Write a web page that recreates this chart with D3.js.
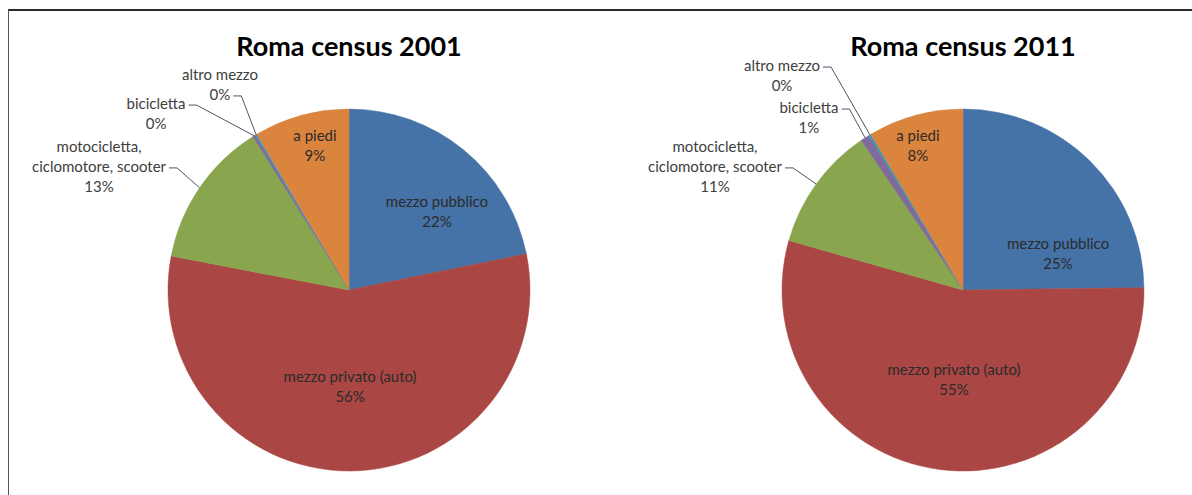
<!DOCTYPE html>
<html><head><meta charset="utf-8">
<script src="https://cdn.jsdelivr.net/npm/d3@7"></script>
<style>
html,body{margin:0;padding:0;background:#fff;}
svg{display:block;}
text{font-family:Lato,"Open Sans",sans-serif;}
</style></head><body>
<svg id="chart" width="1192" height="495"></svg>
<script>
// ---- data ----
const categories = ["mezzo pubblico","mezzo privato (auto)","motocicletta, ciclomotore, scooter","bicicletta","altro mezzo","a piedi"];
const categoryLines = [["mezzo pubblico"],["mezzo privato (auto)"],["motocicletta,","ciclomotore, scooter"],["bicicletta"],["altro mezzo"],["a piedi"]];
const titles = ["Roma census 2001","Roma census 2011"];
const values2001 = [21.8,56.2,13.1,0.25,0.15,8.5];
const values2011 = [24.8,54.6,11.1,0.8,0.2,8.5];
const pctLabels2001 = ["22%","56%","13%","0%","0%","9%"];
const pctLabels2011 = ["25%","55%","11%","1%","0%","8%"];
const colors = ["#4572A7","#AA4643","#89A54E","#80699B","#3D96AE","#DB843D"];

// ---- layout (label placement, in units of the pie radius) ----
const labelLayout2001 = [
  {x:0.486,y:-0.431},
  {x:0.006,y:0.536},
  {x:-1.381,y:-0.680,out:true,hook:1},
  {x:-1.066,y:-0.972,out:true,hook:0},
  {x:-0.713,y:-1.133,out:true,hook:1},
  {x:-0.188,y:-0.796}
];
const labelLayout2011 = [
  {x:0.525,y:-0.199},
  {x:-0.05,y:0.497},
  {x:-1.370,y:-0.680,out:true,hook:1},
  {x:-0.851,y:-0.950,out:true,hook:0},
  {x:-1.0,y:-1.182,out:true,hook:0},
  {x:-0.249,y:-0.796}
];

const charts = [
  {title:titles[0], values:values2001, pct:pctLabels2001, layout:labelLayout2001},
  {title:titles[1], values:values2011, pct:pctLabels2011, layout:labelLayout2011}
];

const W = 1192, H = 495;
const svg = d3.select("#chart");

// frame
svg.append("line").attr("x1",8).attr("x2",W).attr("y1",10).attr("y2",10)
  .attr("stroke","#2a2a2a").attr("stroke-width",2);
svg.append("line").attr("x1",8.5).attr("x2",8.5).attr("y1",10).attr("y2",H)
  .attr("stroke","#555").attr("stroke-width",1);

const xPanel = d3.scalePoint().domain(titles).range([349,963]);
const cy = 290, R = 181, lineH = 20;

const pie = d3.pie().sort(null).value(d=>d);
const arc = d3.arc().innerRadius(0).outerRadius(R);

charts.forEach(ch => {
  const cx = xPanel(ch.title);
  const g = svg.append("g").attr("transform",`translate(${cx},${cy})`);

  svg.append("text").attr("x",cx).attr("y",56).attr("text-anchor","middle")
    .attr("font-size",27).attr("font-weight",700).attr("fill","#000").text(ch.title);

  const arcs = pie(ch.values);
  g.selectAll("path.slice").data(arcs).enter().append("path")
    .attr("class","slice").attr("d",arc)
    .attr("fill",(d,i)=>colors[i]).attr("stroke",(d,i)=>colors[i]).attr("stroke-width",0.5);

  arcs.forEach((a,i) => {
    const L = ch.layout[i];
    const lines = categoryLines[i].concat([ch.pct[i]]);
    const lx = L.x*R, ly = L.y*R;
    const top = ly - (lines.length-1)*lineH/2;
    const t = g.append("text").attr("text-anchor","middle").attr("font-size",15)
      .attr("fill", L.out ? "#404040" : "#2b2b2b");
    const spans = lines.map((s,k)=> t.append("tspan").attr("x",lx).attr("y",top+k*lineH).attr("dy","0.35em").text(s));
    if (L.out) {
      const hk = spans[L.hook];
      const w = hk.node().getComputedTextLength();
      const hy = top + L.hook*lineH + 1;
      const x0 = lx + w/2 + 3;
      const mid = (a.startAngle + a.endAngle)/2;
      const ex = Math.sin(mid)*R, ey = -Math.cos(mid)*R;
      g.append("path").attr("d",`M${x0},${hy}H${x0+8}L${ex},${ey}`)
        .attr("fill","none").attr("stroke","#4d5563").attr("stroke-width",1);
    }
  });
});
</script>
</body></html>
